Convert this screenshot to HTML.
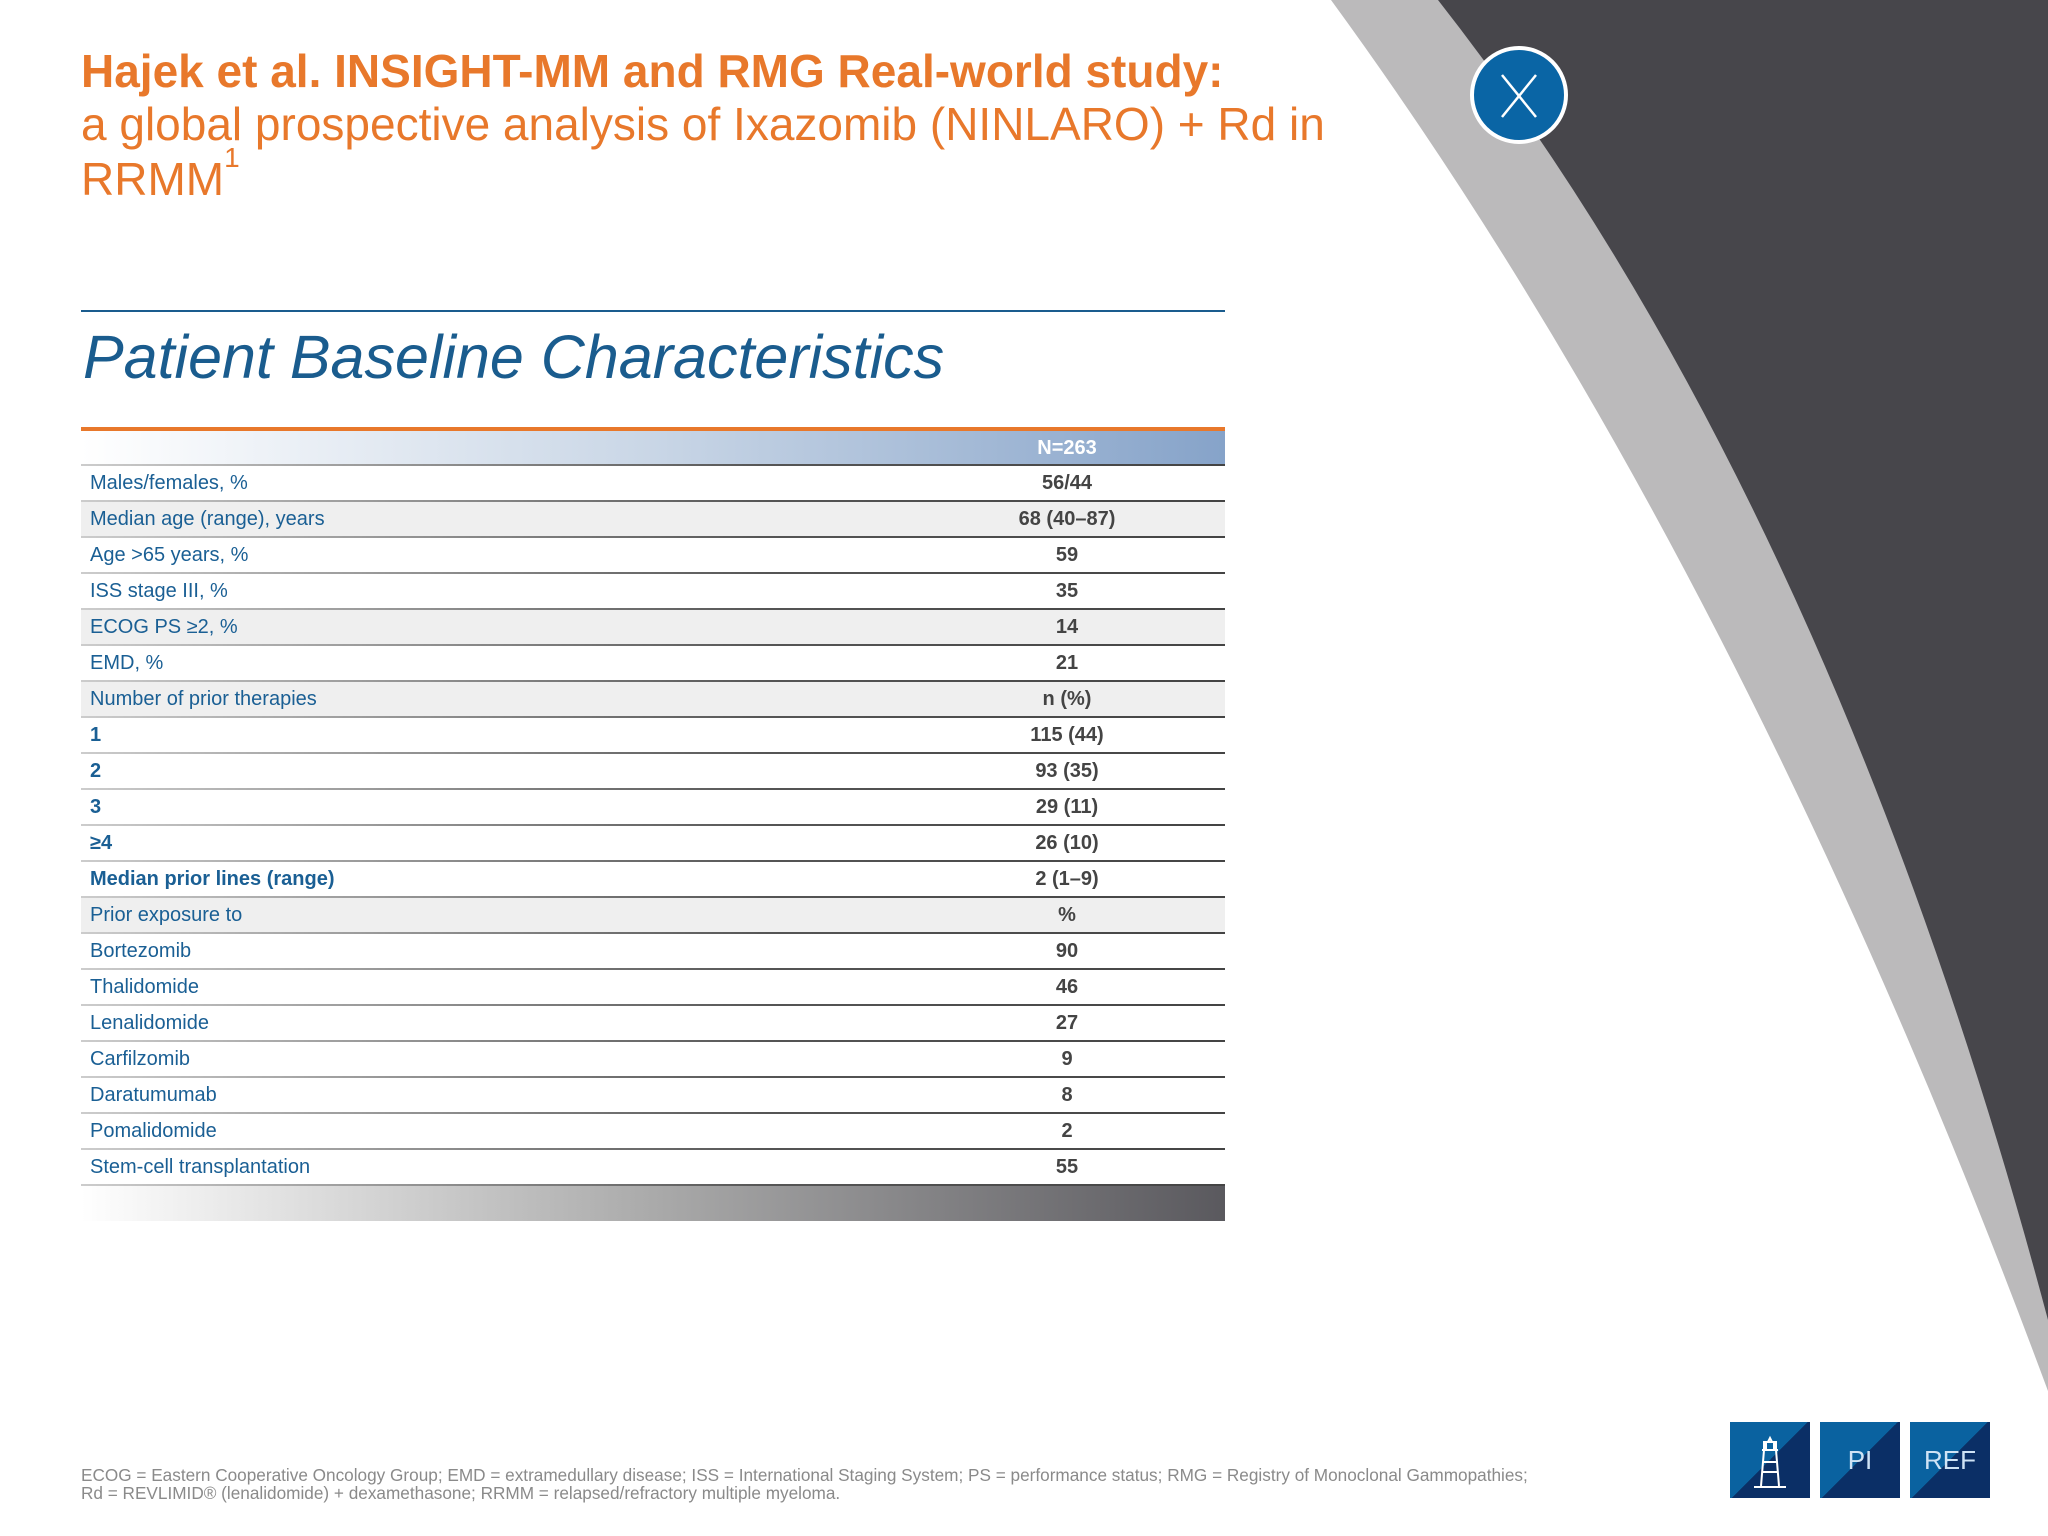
<!DOCTYPE html>
<html><head><meta charset="utf-8"><style>
body{margin:0;width:2048px;height:1536px;position:relative;overflow:hidden;background:#fff;font-family:"Liberation Sans",sans-serif}
.t1{position:absolute;left:81px;top:44px;font-size:46px;font-weight:bold;color:#e8782b;white-space:nowrap}
.t2{position:absolute;left:81px;top:97px;font-size:46px;color:#e8782b;line-height:55px;width:1400px;white-space:nowrap}
.t2 sup{font-size:28px;line-height:0;vertical-align:top;position:relative;top:6px}
.sub{position:absolute;left:83px;top:322px;font-size:61px;font-style:italic;color:#1a5c8e}
.rule{position:absolute;left:81px;width:1144px}
.row{position:absolute;left:81px;width:1144px;height:36px}
.row .l{position:absolute;left:9px;top:6px;font-size:20px;color:#1a5f94}
.row .v{position:absolute;left:886px;width:200px;text-align:center;top:6px;font-size:20px;font-weight:bold;color:#444}
.sep{position:absolute;left:0;right:0;bottom:0;height:2px;background:linear-gradient(90deg,#ccc,#555 60%,#444)}
.foot{position:absolute;left:81px;top:1466px;font-size:17.2px;color:#8a8a8a;line-height:18px;white-space:nowrap}
.btn{position:absolute;top:1422px;width:80px;height:76px;background:linear-gradient(135deg,#0a62a0 50%,#0b2f66 50%);color:#cfe3f5;font-size:26px;text-align:center;line-height:76px}
</style></head><body>
<svg style="position:absolute;left:0;top:0" width="2048" height="1536">
<path d="M1331,0 Q1740,560 2048,1391 L2048,0 Z" fill="#bbbabb"/>
<path d="M1438,0 Q1830,500 2048,1320 L2048,0 Z" fill="#47464b"/>
</svg>
<div class="t1">Hajek et al. INSIGHT-MM and RMG Real-world study:</div>
<div class="t2">a global prospective analysis of Ixazomib (NINLARO) + Rd in<br>RRMM<sup>1</sup></div>
<svg style="position:absolute;left:1469px;top:45px" width="100" height="100">
<circle cx="50" cy="50" r="47" fill="#0a65a5" stroke="#fff" stroke-width="4"/>
<line x1="33" y1="30" x2="67" y2="72" stroke="#fff" stroke-width="2.5"/><line x1="67" y1="30" x2="33" y2="72" stroke="#fff" stroke-width="2.5"/>
</svg>
<div class="rule" style="top:310px;height:2px;background:#1a5c8e"></div>
<div class="sub">Patient Baseline Characteristics</div>
<div class="rule" style="top:427px;height:4px;background:#e8782b"></div>
<div class="row" style="top:431px;height:35px;background:linear-gradient(90deg,#fff,#c9d6e6 50%,#86a3c9)"><div class="v" style="color:#fff">N=263</div><div class="sep"></div></div>
<div id="tbl"></div>
<div class="rule" style="top:1186px;height:35px;background:linear-gradient(90deg,#fff,#aaa 50%,#5a595e)"></div>
<div class="foot">ECOG = Eastern Cooperative Oncology Group; EMD = extramedullary disease; ISS = International Staging System; PS = performance status; RMG = Registry of Monoclonal Gammopathies;<br>Rd = REVLIMID® (lenalidomide) + dexamethasone; RRMM = relapsed/refractory multiple myeloma.</div>
<div class="btn" style="left:1730px">
<svg width="80" height="76"><g stroke="#fff" stroke-width="2" fill="none"><path d="M34,20 h12 v8 h-12 z M32,28 h16 M36,28 v-8 M44,28 v-8 M34,28 L31,64 M46,28 L49,64 M33,40 h14 M32,50 h16 M24,65 h32 M38,20 l2,-4 l2,4"/></g></svg></div>
<div class="btn" style="left:1820px">PI</div>
<div class="btn" style="left:1910px">REF</div>
<script>
const labels=["Males/females, %","Median age (range), years","Age >65 years, %","ISS stage III, %","ECOG PS ≥2, %","EMD, %","Number of prior therapies","1","2","3","≥4","Median prior lines (range)","Prior exposure to","Bortezomib","Thalidomide","Lenalidomide","Carfilzomib","Daratumumab","Pomalidomide","Stem-cell transplantation"];
const values=["56/44","68 (40–87)","59","35","14","21","n (%)","115 (44)","93 (35)","29 (11)","26 (10)","2 (1–9)","%","90","46","27","9","8","2","55"];
const boldRows=[7,8,9,10,11];
const shadedRows=[1,4,6,12];
const tbl=document.getElementById('tbl');
labels.forEach((lab,i)=>{
 const r=document.createElement('div');r.className='row';
 
 
 r.style.top=(466+i*36)+'px';
 if(shadedRows.includes(i))r.style.background='#efefef';
 const l=document.createElement('div');l.className='l';l.textContent=lab;
 
 
 if(boldRows.includes(i))l.style.fontWeight='bold';
 const v=document.createElement('div');v.className='v';v.textContent=values[i];
 
 
 const s=document.createElement('div');s.className='sep';
 r.append(l,v,s);tbl.appendChild(r);
});
</script>
</body></html>
